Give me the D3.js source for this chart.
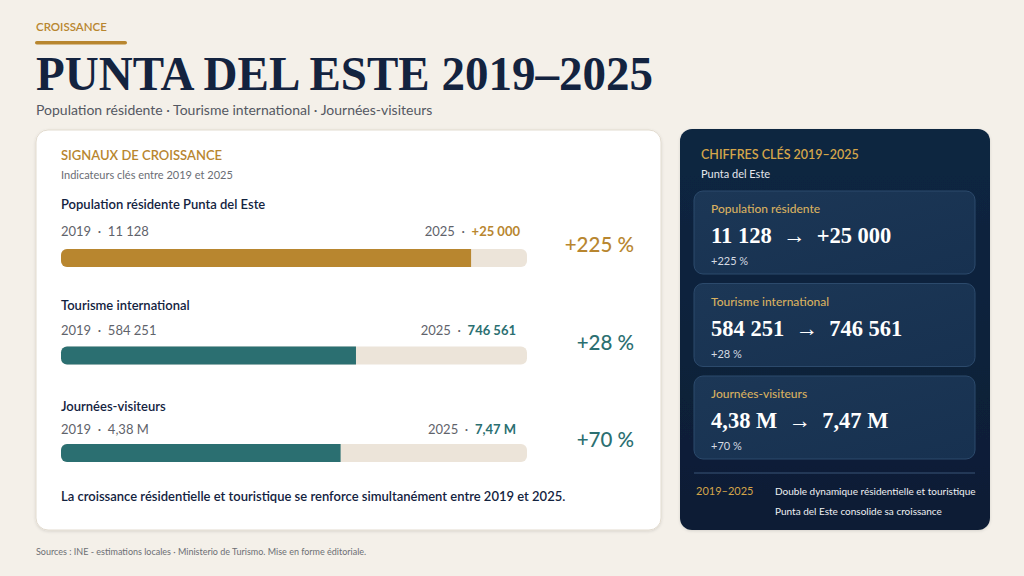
<!DOCTYPE html>
<html><head><meta charset="utf-8">
<script src="https://cdn.jsdelivr.net/npm/d3@7"></script>
<style>
html,body{margin:0;padding:0;background:#f4f0e9;}
svg{display:block;}
</style></head>
<body>
<div id="chart"></div>
<script>
const indicators = ["Population résidente Punta del Este","Tourisme international","Journées-visiteurs"];
const cardLabels = ["Population résidente","Tourisme international","Journées-visiteurs"];
const labels2019 = ["11 128","584 251","4,38 M"];
const labels2025 = ["+25 000","746 561","7,47 M"];
const growthPct = [225, 28, 70];
const barFill = [0.88, 0.633, 0.60];
const seriesColor = ["#b8862f","#2b6f71","#2b6f71"];

const W = 1024, H = 576;
const sans = "Lato, 'Open Sans', sans-serif";
const serif = "'Liberation Serif', 'DejaVu Serif', serif";
const gold = "#b8862f", navy = "#13233f", gray = "#5f636b";

const svg = d3.select("#chart").append("svg").attr("width", W).attr("height", H);
const defs = svg.append("defs");
const g1 = defs.append("linearGradient").attr("id","darkbg").attr("x1",0).attr("y1",0).attr("x2",0).attr("y2",1);
g1.append("stop").attr("offset","0%").attr("stop-color","#112641");
g1.append("stop").attr("offset","100%").attr("stop-color","#0c1d35");
const g2 = defs.append("linearGradient").attr("id","cardbg").attr("x1",0).attr("y1",0).attr("x2",1).attr("y2",1);
g2.append("stop").attr("offset","0%").attr("stop-color","#1c3756");
g2.append("stop").attr("offset","100%").attr("stop-color","#173150");
const sh = defs.append("filter").attr("id","shadow").attr("x","-10%").attr("y","-10%").attr("width","120%").attr("height","120%");
sh.append("feDropShadow").attr("dx",0).attr("dy",1).attr("stdDeviation",1.5).attr("flood-color","#000").attr("flood-opacity",0.12);

svg.append("rect").attr("width",W).attr("height",H).attr("fill","#f4f0e9");

// Header
svg.append("text").attr("x",36).attr("y",31).text("CROISSANCE")
  .attr("font-family",sans).attr("font-size",11.5).attr("font-weight",600).attr("fill",gold);
svg.append("rect").attr("x",35).attr("y",41).attr("width",92).attr("height",3.5).attr("rx",1.75).attr("fill",gold);
svg.append("text").attr("x",36).attr("y",90).text("PUNTA DEL ESTE 2019–2025")
  .attr("font-family",serif).attr("font-size",48).attr("font-weight",700).attr("fill",navy)
  .attr("textLength",617).attr("lengthAdjust","spacingAndGlyphs");
svg.append("text").attr("x",36).attr("y",115).text("Population résidente · Tourisme international · Journées-visiteurs")
  .attr("font-family",sans).attr("font-size",14).attr("fill","#545862");

// Left panel
svg.append("rect").attr("x",36).attr("y",130).attr("width",625).attr("height",400).attr("rx",12)
  .attr("fill","#ffffff").attr("stroke","#e2dbcf").attr("stroke-width",1).attr("filter","url(#shadow)");
svg.append("text").attr("x",61).attr("y",160).text("SIGNAUX DE CROISSANCE")
  .attr("font-family",sans).attr("font-size",13).attr("font-weight",600).attr("fill",gold);
svg.append("text").attr("x",61).attr("y",179).text("Indicateurs clés entre 2019 et 2025")
  .attr("font-family",sans).attr("font-size",11).attr("fill","#6a6d74");

const x = d3.scaleLinear().domain([0,1]).range([61,527]);
const titleY = d3.scaleLinear().domain([0,2]).range([209,411]);
const valueY = d3.scaleLinear().domain([0,2]).range([236,434]);
const barY = d3.scaleLinear().domain([0,2]).range([249,444]);
const pctY = d3.scaleLinear().domain([0,2]).range([252,447]);
const barH = 18;

const rows = svg.append("g").selectAll("g").data(indicators).join("g");
rows.append("text").attr("x",61).attr("y",(d,i)=>titleY(i)).text(d=>d)
  .attr("font-family",sans).attr("font-size",13).attr("font-weight",600).attr("fill",navy);
rows.append("text").attr("x",61).attr("y",(d,i)=>valueY(i))
  .attr("font-family",sans).attr("font-size",13).attr("fill",gray)
  .text((d,i)=>`2019  ·  ${labels2019[i]}`).attr("xml:space","preserve");
const right = rows.append("text").attr("x",(d,i)=>i===0?520:516).attr("y",(d,i)=>valueY(i)).attr("text-anchor","end")
  .attr("font-family",sans).attr("font-size",13).attr("fill",gray).attr("xml:space","preserve");
right.append("tspan").text("2025  ·  ");
right.append("tspan").text((d,i)=>labels2025[i]).attr("font-weight",700).attr("fill",(d,i)=>seriesColor[i]);
rows.append("rect").attr("x",x(0)).attr("y",(d,i)=>barY(i)).attr("width",x(1)-x(0)).attr("height",barH).attr("rx",6)
  .attr("fill","#ece4d9");
rows.append("path").attr("fill",(d,i)=>seriesColor[i])
  .attr("d",(d,i)=>{
    const x0=x(0), x1=x(barFill[i]), y0=barY(i), h=barH, r=6;
    return `M${x0+r},${y0} H${x1} V${y0+h} H${x0+r} A${r},${r} 0 0 1 ${x0},${y0+h-r} V${y0+r} A${r},${r} 0 0 1 ${x0+r},${y0} Z`;
  });
rows.append("text").attr("x",634).attr("y",(d,i)=>pctY(i)).attr("text-anchor","end")
  .text((d,i)=>`+${growthPct[i]} %`)
  .attr("font-family",sans).attr("font-size",20.5).attr("font-weight",500).attr("fill",(d,i)=>seriesColor[i]);

svg.append("text").attr("x",61).attr("y",501)
  .text("La croissance résidentielle et touristique se renforce simultanément entre 2019 et 2025.")
  .attr("font-family",sans).attr("font-size",13).attr("font-weight",600).attr("fill",navy);

svg.append("text").attr("x",36).attr("y",555)
  .text("Sources : INE - estimations locales · Ministerio de Turismo. Mise en forme éditoriale.")
  .attr("font-family",sans).attr("font-size",9).attr("fill","#6d6f74");

// Right panel
svg.append("rect").attr("x",680).attr("y",129).attr("width",310).attr("height",401).attr("rx",12)
  .attr("fill","url(#darkbg)").attr("filter","url(#shadow)");
svg.append("text").attr("x",701).attr("y",159).text("CHIFFRES CLÉS 2019–2025")
  .attr("font-family",sans).attr("font-size",12.5).attr("font-weight",600).attr("fill","#d4a54a");
svg.append("text").attr("x",701).attr("y",178).text("Punta del Este")
  .attr("font-family",sans).attr("font-size",11).attr("fill","#e4e7ec");

const cardY = d3.scaleLinear().domain([0,2]).range([191,376]);
const cards = svg.append("g").selectAll("g").data(cardLabels).join("g")
  .attr("transform",(d,i)=>`translate(694,${cardY(i)})`);
cards.append("rect").attr("width",281).attr("height",83).attr("rx",9)
  .attr("fill","url(#cardbg)").attr("stroke","#2c4a6c").attr("stroke-width",1);
cards.append("text").attr("x",17).attr("y",22).text(d=>d)
  .attr("font-family",sans).attr("font-size",12).attr("font-weight",500).attr("fill","#d8b060");
cards.append("text").attr("x",17).attr("y",52).attr("xml:space","preserve")
  .text((d,i)=>`${labels2019[i]}  →  ${labels2025[i]}`)
  .attr("font-family",serif).attr("font-size",22.5).attr("font-weight",700).attr("fill","#ffffff");
cards.append("text").attr("x",17).attr("y",74).text((d,i)=>`+${growthPct[i]} %`)
  .attr("font-family",sans).attr("font-size",11).attr("fill","#d5dae2");

svg.append("line").attr("x1",694).attr("x2",975).attr("y1",473).attr("y2",473)
  .attr("stroke","#3b5576").attr("stroke-width",1);
svg.append("text").attr("x",696).attr("y",495).text("2019–2025")
  .attr("font-family",sans).attr("font-size",11).attr("fill","#d4a54a");
svg.append("text").attr("x",775).attr("y",495).text("Double dynamique résidentielle et touristique")
  .attr("font-family",sans).attr("font-size",10).attr("fill","#eef0f3");
svg.append("text").attr("x",775).attr("y",515).text("Punta del Este consolide sa croissance")
  .attr("font-family",sans).attr("font-size",10).attr("fill","#eef0f3");
</script>
</body></html>
